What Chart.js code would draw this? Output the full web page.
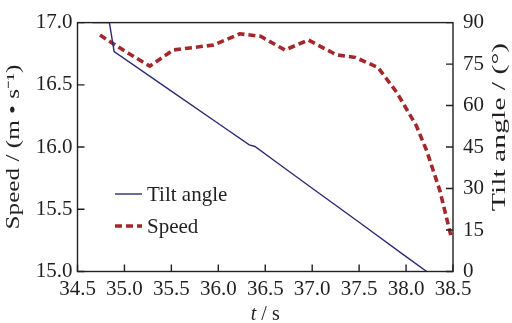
<!DOCTYPE html>
<html>
<head>
<meta charset="utf-8">
<script src="https://cdn.jsdelivr.net/npm/chart.js@4.4.1/dist/chart.umd.min.js"></script>
<style>
    html, body { margin: 0; padding: 0; background: #fff; }
    canvas { display: block; }
</style>
</head>
<body>
<canvas id="tilt-speed-chart" width="512" height="323"></canvas>
<script>
// tilt angle (deg) against time (s)
var tiltTime  = [34.66, 34.84, 34.89, 35.50, 36.00, 36.33, 36.39, 36.66, 37.00, 37.50, 38.00, 38.22];
var tiltAngle = [90.0, 90.0, 79.5, 65.2, 53.5, 45.8, 45.2, 38.5, 30.1, 17.8, 5.4, 0.0];

// speed (m/s) against time (s)
var speedTime  = [34.74, 34.86, 35.05, 35.27, 35.52, 35.95, 36.23, 36.45, 36.71, 36.96, 37.26, 37.46, 37.70, 37.90, 38.11, 38.22, 38.36, 38.48];
var speedValue = [16.90, 16.84, 16.75, 16.65, 16.78, 16.82, 16.91, 16.89, 16.78, 16.86, 16.74, 16.72, 16.64, 16.44, 16.17, 15.97, 15.65, 15.28];

var timeTicks  = [34.5, 35.0, 35.5, 36.0, 36.5, 37.0, 37.5, 38.0, 38.5];
var speedTicks = [15.0, 15.5, 16.0, 16.5, 17.0];
var angleTicks = [0, 15, 30, 45, 60, 75, 90];

var serif = "'Liberation Serif', 'Times New Roman', serif";
var ink = "#231f20";
var navy = "#2c2c76";
var darkRed = "#a4282b";

function toPoints(xs, ys){
    var pts = [];
    for(var i = 0; i < xs.length; i ++){
        pts.push({x: xs[i], y: ys[i]});
    }
    return pts;
}

function fixedTicks(values){
    return function(scale){
        scale.ticks = values.map(function(v){ return {value: v}; });
    };
}

function stretchedText(ctx, text, x, y, stretch){
    ctx.save();
    ctx.translate(x, y);
    ctx.rotate(-Math.PI / 2);
    ctx.scale(stretch, 1);
    ctx.fillText(text, 0, 0);
    ctx.restore();
}

// frame, inward ticks, axis titles and the legend box
var framePlugin = {
    id: 'framePlugin',
    afterDraw: function(chart){
        var ctx = chart.ctx;
        var a = chart.chartArea;
        var sx = chart.scales.x, sy = chart.scales.y, sy1 = chart.scales.y1;
        var tick = 7;

        ctx.save();
        ctx.strokeStyle = ink;
        ctx.lineWidth = 1.4;
        ctx.strokeRect(a.left, a.top, a.right - a.left, a.bottom - a.top);

        ctx.beginPath();
        timeTicks.forEach(function(v){
            var px = sx.getPixelForValue(v);
            ctx.moveTo(px, a.bottom);
            ctx.lineTo(px, a.bottom - tick);
        });
        speedTicks.forEach(function(v){
            var py = sy.getPixelForValue(v);
            ctx.moveTo(a.left, py);
            ctx.lineTo(a.left + tick, py);
        });
        angleTicks.forEach(function(v){
            var py = sy1.getPixelForValue(v);
            ctx.moveTo(a.right, py);
            ctx.lineTo(a.right - tick, py);
        });
        ctx.stroke();

        // axis titles
        ctx.fillStyle = ink;
        ctx.textAlign = 'center';
        ctx.textBaseline = 'alphabetic';
        ctx.font = "18px " + serif;
        stretchedText(ctx, "Speed / (m \u2022 s\u207B\u00B9)", 19, (a.top + a.bottom) / 2, 1.4);
        stretchedText(ctx, "Tilt angle / (\u00B0)", 505, 127, 1.65);

        ctx.font = "italic 20px " + serif;
        ctx.textAlign = 'left';
        var tW = ctx.measureText("t").width;
        ctx.font = "20px " + serif;
        var restW = ctx.measureText(" / s").width;
        var startX = (a.left + a.right) / 2 - (tW + restW) / 2;
        ctx.font = "italic 20px " + serif;
        ctx.fillText("t", startX, 320);
        ctx.font = "20px " + serif;
        ctx.fillText(" / s", startX + tW, 320);

        // legend
        var rows = [194, 226];
        ctx.font = "21px " + serif;
        ctx.textBaseline = 'middle';
        chart.data.datasets.forEach(function(ds, i){
            var y = rows[i];
            ctx.beginPath();
            ctx.strokeStyle = ds.borderColor;
            ctx.lineWidth = ds.borderWidth;
            ctx.setLineDash(ds.borderDash || []);
            ctx.moveTo(115, y);
            ctx.lineTo(142, y);
            ctx.stroke();
            ctx.setLineDash([]);
            ctx.fillStyle = ink;
            ctx.fillText(ds.label, 147, y + 1);
        });
        ctx.restore();
    }
};

var tickFont = {family: serif, size: 21};

var chart = new Chart(document.getElementById('tilt-speed-chart').getContext('2d'), {
    type: 'line',
    data: {
        datasets: [
            {
                label: 'Tilt angle',
                data: toPoints(tiltTime, tiltAngle),
                yAxisID: 'y1',
                borderColor: navy,
                borderWidth: 1.4,
                pointRadius: 0,
                tension: 0,
                fill: false
            },
            {
                label: 'Speed',
                data: toPoints(speedTime, speedValue),
                yAxisID: 'y',
                borderColor: darkRed,
                borderWidth: 3.6,
                borderDash: [7, 4],
                pointRadius: 0,
                tension: 0,
                fill: false
            }
        ]
    },
    options: {
        responsive: false,
        animation: false,
        devicePixelRatio: 1,
        layout: {padding: {top: 19.5, left: 0, right: 0, bottom: 0}},
        plugins: {
            legend: {display: false},
            tooltip: {enabled: false}
        },
        scales: {
            x: {
                type: 'linear',
                min: 34.5,
                max: 38.5,
                afterBuildTicks: fixedTicks(timeTicks),
                afterFit: function(s){ s.height = 51.5; },
                grid: {display: false, drawTicks: false},
                border: {display: false},
                ticks: {
                    font: tickFont,
                    color: ink,
                    padding: 5,
                    maxRotation: 0,
                    autoSkip: false,
                    callback: function(v){ return v.toFixed(1); }
                }
            },
            y: {
                position: 'left',
                min: 15,
                max: 17,
                afterBuildTicks: fixedTicks(speedTicks),
                afterFit: function(s){ s.width = 77.5; },
                grid: {display: false, drawTicks: false},
                border: {display: false},
                ticks: {
                    font: tickFont,
                    color: ink,
                    padding: 5,
                    callback: function(v){ return v.toFixed(1); }
                }
            },
            y1: {
                position: 'right',
                min: 0,
                max: 90,
                afterBuildTicks: fixedTicks(angleTicks),
                afterFit: function(s){ s.width = 59; },
                grid: {display: false, drawTicks: false},
                border: {display: false},
                ticks: {
                    font: tickFont,
                    color: ink,
                    padding: 10,
                    callback: function(v){ return String(v); }
                }
            }
        }
    },
    plugins: [framePlugin]
});
</script>
</body>
</html>
